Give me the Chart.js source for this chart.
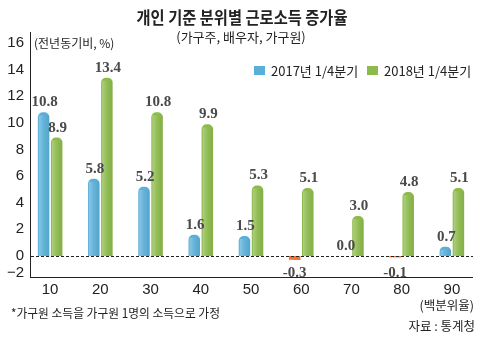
<!DOCTYPE html>
<html>
<head>
<meta charset="utf-8">
<script src="https://cdn.jsdelivr.net/npm/chart.js@4.4.0/dist/chart.umd.min.js"></script>
<style>
  html, body { margin: 0; padding: 0; background: #fff; }
  #wrap { width: 481px; height: 339px; }
</style>
</head>
<body>
<div id="wrap"><canvas id="chartIncome" width="481" height="339"></canvas></div>
<script>
// 분위별 근로소득 증가율 (전년동기비, %)
const quantiles = ["10", "20", "30", "40", "50", "60", "70", "80", "90"];
const q2017 = [10.8, 5.8, 5.2, 1.6, 1.5, -0.3, 0.0, -0.1, 0.7];
const q2018 = [8.9, 13.4, 10.8, 9.9, 5.3, 5.1, 3.0, 4.8, 5.1];
const yTicks = [-2, 0, 2, 4, 6, 8, 10, 12, 14, 16];
const seriesNames = ["2017년 1/4분기", "2018년 1/4분기"];

const BLUE = "#5aafd8";
const GREEN = "#8cba4b";
const ORANGE = "#f0713a";
const KR = "'Noto Sans CJK KR', 'Noto Sans', sans-serif";
const NUM = "'Liberation Sans Narrow', 'Liberation Sans', Arial, sans-serif";

// -2 is squeezed just above the bottom of the axis in the original
const Y_MIN = -1.58;
const Y_MAX = 16.83;
const MINUS_TWO_AT = -1.3;

// text squeezed a little horizontally, like the narrow gothic in the original
function narrowText(ctx, txt, x, y, sx) {
  ctx.save();
  ctx.translate(x, y);
  ctx.scale(sx, 1);
  ctx.fillText(txt, 0, 0);
  ctx.restore();
}

const extras = {
  id: "extras",
  afterDatasetsDraw(chart) {
    const ctx = chart.ctx;
    const area = chart.chartArea;
    const y = chart.scales.y;
    const zero = Math.round(y.getPixelForValue(0)) + 0.5;

    ctx.save();
    // soft highlight on each bar
    chart.data.datasets.forEach((ds, di) => {
      chart.getDatasetMeta(di).data.forEach((bar) => {
        const top = Math.min(bar.y, bar.base);
        const h = Math.abs(bar.base - bar.y);
        if (h < 1) return;
        const l = bar.x - bar.width / 2;
        const g = ctx.createLinearGradient(l, 0, l + bar.width, 0);
        g.addColorStop(0, "rgba(255,255,255,0.35)");
        g.addColorStop(0.45, "rgba(255,255,255,0.08)");
        g.addColorStop(1, "rgba(0,0,0,0.06)");
        ctx.fillStyle = g;
        ctx.beginPath();
        ctx.rect(l + 1, top + 3, bar.width - 1, h - 3);
        ctx.fill();
      });
    });

    // axis lines
    ctx.strokeStyle = "#222";
    ctx.lineWidth = 1;
    ctx.beginPath();
    ctx.moveTo(30.5, area.top);
    ctx.lineTo(30.5, area.bottom);
    ctx.moveTo(30, area.bottom + 0.5);
    ctx.lineTo(473, area.bottom + 0.5);
    ctx.stroke();

    // dashed zero line
    ctx.setLineDash([3, 2]);
    ctx.beginPath();
    ctx.moveTo(31, zero);
    ctx.lineTo(473, zero);
    ctx.stroke();
    ctx.setLineDash([]);

    // value labels
    ctx.font = "bold 15px 'Liberation Serif', 'DejaVu Serif', serif";
    ctx.fillStyle = "#4a4a4a";
    ctx.textAlign = "center";
    chart.data.datasets.forEach((ds, di) => {
      chart.getDatasetMeta(di).data.forEach((bar, i) => {
        const v = ds.data[i];
        const txt = v.toFixed(1);
        if (v < 0) {
          ctx.textBaseline = "middle";
          ctx.fillText(txt, bar.x, zero + 17);
        } else {
          ctx.textBaseline = "alphabetic";
          ctx.fillText(txt, bar.x + 1, bar.y - 6);
        }
      });
    });

    // titles
    ctx.fillStyle = "#222";
    ctx.textBaseline = "middle";
    ctx.textAlign = "center";
    ctx.font = "bold 17px " + KR;
    narrowText(ctx, "개인 기준 분위별 근로소득 증가율", 242, 18, 0.9);
    ctx.font = "13px " + KR;
    ctx.fillText("(가구주, 배우자, 가구원)", 241, 37);

    ctx.textAlign = "left";
    ctx.font = "12px " + KR;
    ctx.fillText("(전년동기비, %)", 34, 43);

    // legend
    const legendX = [254, 367];
    const colors = [BLUE, GREEN];
    ctx.font = "13px " + KR;
    seriesNames.forEach((name, k) => {
      ctx.fillStyle = colors[k];
      ctx.fillRect(legendX[k], 66, 11, 9);
      ctx.fillStyle = "#222";
      ctx.fillText(name, legendX[k] + 17, 71);
    });

    // notes
    ctx.font = "12.5px " + KR;
    narrowText(ctx, "*가구원 소득을 가구원 1명의 소득으로 가정", 11, 313, 0.94);
    ctx.textAlign = "right";
    ctx.fillText("(백분위율)", 474, 305);
    ctx.fillText("자료 : 통계청", 475, 326);
    ctx.restore();
  }
};

const chartIncome = document.getElementById("chartIncome");
new Chart(chartIncome, {
  type: "bar",
  data: {
    labels: quantiles,
    datasets: [
      {
        label: seriesNames[0],
        data: q2017,
        backgroundColor: (c) => (c.raw < 0 ? ORANGE : BLUE),
        borderRadius: (c) => (c.raw < 0 ? 0 : { topLeft: 5, topRight: 5 }),
        borderSkipped: "start",
      },
      {
        label: seriesNames[1],
        data: q2018,
        backgroundColor: (c) => (c.raw < 0 ? ORANGE : GREEN),
        borderRadius: (c) => (c.raw < 0 ? 0 : { topLeft: 5, topRight: 5 }),
        borderSkipped: "start",
      },
    ],
  },
  options: {
    responsive: false,
    animation: false,
    devicePixelRatio: 1,
    layout: { padding: { top: 32, right: 4, left: 0, bottom: 0 } },
    datasets: {
      bar: { categoryPercentage: 0.52, barPercentage: 0.88 },
    },
    plugins: {
      legend: { display: false },
      tooltip: { enabled: false },
      title: { display: false },
    },
    scales: {
      x: {
        grid: { display: false, drawTicks: false },
        border: { display: false },
        ticks: {
          color: "#222",
          font: { family: NUM, size: 15 },
          padding: 4,
          maxRotation: 0,
        },
        afterFit: (s) => { s.height = 62; },
      },
      y: {
        min: Y_MIN,
        max: Y_MAX,
        grid: { display: false, drawTicks: false },
        border: { display: false },
        afterBuildTicks: (s) => {
          s.ticks = yTicks.map((v) => ({ value: v === -2 ? MINUS_TWO_AT : v }));
        },
        ticks: {
          color: "#222",
          font: { family: NUM, size: 15 },
          padding: 1,
          callback: (v) => (v === MINUS_TWO_AT ? "\u22122" : v),
        },
        afterFit: (s) => { s.width = 25; },
      },
    },
  },
  plugins: [extras],
});
</script>
</body>
</html>
